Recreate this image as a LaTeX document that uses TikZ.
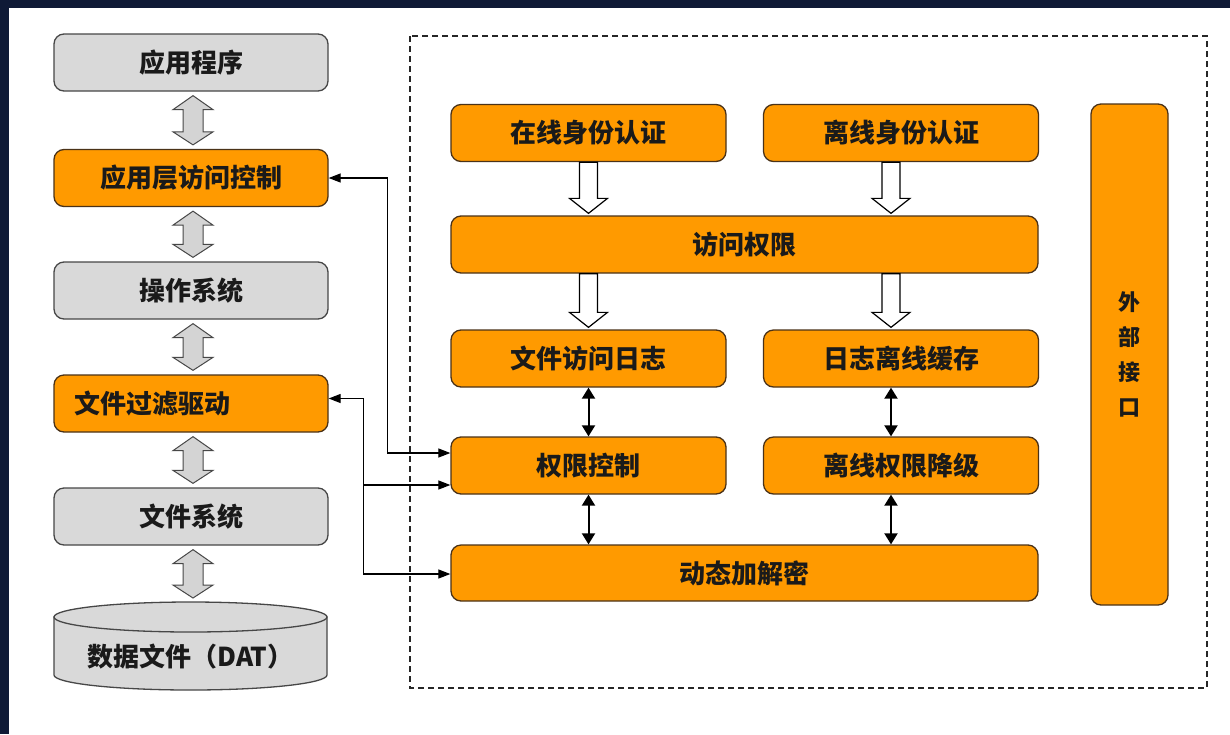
\documentclass[tikz,border=0pt]{standalone}
\usepackage{fontspec}
\newfontfamily\cjk{Noto Sans CJK SC}
\usetikzlibrary{arrows.meta,calc}
\definecolor{frameblue}{HTML}{0F1A36}
\definecolor{boxorange}{HTML}{FF9A00}
\definecolor{boxgray}{HTML}{D9D9D9}
\definecolor{orangeedge}{HTML}{4A3218}
\definecolor{grayedge}{HTML}{474747}
\definecolor{txt}{HTML}{1A1A1A}
\definecolor{arrowgray}{HTML}{D4D4D4}
\tikzset{ctip/.tip={Triangle[width=9pt,length=12pt]}}
\newcommand\gdarrow[2]{%
  \path[garrow] let \p1=#1, \p2=#2 in
  (\x1+2pt,\y1-4pt) -- (\x1+22pt,\y1-18pt) -- (\x1+12pt,\y1-18pt) -- (\x1+12pt,\y2+17pt)
  -- (\x1+22pt,\y2+17pt) -- (\x1+2pt,\y2+4pt) -- (\x1-18pt,\y2+17pt) -- (\x1-8pt,\y2+17pt)
  -- (\x1-8pt,\y1-18pt) -- (\x1-18pt,\y1-18pt) -- cycle;}
\newcommand\harrowx[2]{%
  \path[harrow] let \p1=#1, \p2=#2 in
  (\x2-9pt,\y1) -- (\x2-9pt,\y2+17pt) -- (\x2-19pt,\y2+17pt) -- (\x2,\y2+2pt)
  -- (\x2+19pt,\y2+17pt) -- (\x2+9pt,\y2+17pt) -- (\x2+9pt,\y1) -- cycle;}
\begin{document}
\begin{tikzpicture}[x=1pt,y=-1pt,
  base/.style={rounded corners=10pt, line width=1.3pt, text=txt, inner sep=0pt,
    font=\cjk\bfseries\fontsize{26}{30}\selectfont},
  obox/.style={base, draw=orangeedge, fill=boxorange},
  gbox/.style={base, draw=grayedge, fill=boxgray},
  lcol/.style={minimum width=274pt, minimum height=57pt},
  half/.style={minimum width=275pt, minimum height=57pt},
  wide/.style={minimum width=587pt, minimum height=57pt},
  garrow/.style={fill=arrowgray, draw=grayedge, line width=1pt},
  harrow/.style={fill=white, draw=black, line width=1.2pt},
  bdarrow/.style={line width=2pt, {Triangle[width=13pt,length=11pt]}-{Triangle[width=13pt,length=11pt]}},
  conn/.style={line width=1.2pt, draw=black},
  dashbox/.style={draw=black!85, line width=1.2pt, dash pattern=on 6pt off 4pt}]
\useasboundingbox (0,0) rectangle (1230,734);
\fill[frameblue] (0,0) rectangle (1230,734);
\fill[white] (9,8) rectangle (1230,734);

% dashed frame
\draw[dashbox] (410,36) rectangle (1207,688);

% left column
\node[gbox, lcol] (app) at (191,62.5) {应用程序};
\node[obox, lcol] (acl) at (191,178) {应用层访问控制};
\node[gbox, lcol] (os)  at (191,290.5) {操作系统};
\node[obox, lcol] (flt) at (191,403.5) {\hspace*{-78pt}文件过滤驱动};
\node[gbox, lcol] (fs)  at (191,516.5) {文件系统};

% cylinder
\filldraw[fill=boxgray, draw=grayedge, line width=1.3pt]
  (54,617) -- (54,675) arc[start angle=180, end angle=0, x radius=136.5, y radius=15] -- (327,617) -- cycle;
\filldraw[fill=boxgray, draw=grayedge, line width=1.3pt] (190.5,617) ellipse [x radius=136.5, y radius=15];
\coordinate (datTop) at (190.5,602);
\node[text=txt, font=\cjk\bfseries\fontsize{26}{30}\selectfont, inner sep=0pt] (dat) at (190.5,657) {数据文件（DAT）};

\gdarrow{(app.south)}{(acl.north)}
\gdarrow{(acl.south)}{(os.north)}
\gdarrow{(os.south)}{(flt.north)}
\gdarrow{(flt.south)}{(fs.north)}
\gdarrow{(fs.south)}{(datTop)}

% right part
\node[obox, half] (online)  at (588.5,133) {在线身份认证};
\node[obox, half] (offline) at (901,133) {离线身份认证};
\node[obox, wide] (perm)    at (744.5,244.5) {访问权限};
\node[obox, half] (log)     at (588.5,358.5) {文件访问日志};
\node[obox, half] (cache)   at (901,358.5) {日志离线缓存};
\node[obox, half] (ctrl)    at (588.5,465.5) {权限控制};
\node[obox, half] (degrade) at (901,465.5) {离线权限降级};
\node[obox, wide, minimum height=56pt] (crypt) at (744.5,573) {动态加解密};
\node[obox, minimum width=77pt, minimum height=501pt, align=center,
      font=\cjk\bfseries\fontsize{22}{35}\selectfont] (ext) at (1129.5,354.5) {外\\部\\接\\口};

% hollow arrows
\harrowx{(online.south)}{(online.south |- perm.north)}
\harrowx{($(offline.south)+(-10,0)$)}{($(offline.south |- perm.north)+(-10,0)$)}
\harrowx{(perm.south -| log.north)}{(log.north)}
\harrowx{($(perm.south -| cache.north)+(-10,0)$)}{($(cache.north)+(-10,0)$)}

% black double arrows
\draw[bdarrow] (log.south) -- (ctrl.north);
\draw[bdarrow] (ctrl.south) -- (ctrl.south |- crypt.north);
\draw[bdarrow] ($(cache.south)+(-10,0)$) -- ($(degrade.north)+(-10,0)$);
\draw[bdarrow] ($(degrade.south)+(-10,0)$) -- ($(degrade.south |- crypt.north)+(-10,0)$);

% connectors from the left column
\coordinate (ctrlA) at ($(ctrl.west)+(0,-12.5)$);
\coordinate (ctrlB) at ($(ctrl.west)+(0,19.5)$);
\coordinate (fltA) at ($(flt.east)+(0,-5)$);
\coordinate (busA) at ($(ctrlA)+(-63,0)$);
\coordinate (busB) at ($(fltA)+(35,0)$);
\draw[conn, ctip-ctip] (acl.east) -| (busA) -- (ctrlA);
\draw[conn, ctip-ctip] (fltA) -- (busB) |- ($(crypt.west)+(0,1)$);
\draw[conn, -ctip] (busB |- ctrlB) -- (ctrlB);
\end{tikzpicture}
\end{document}
